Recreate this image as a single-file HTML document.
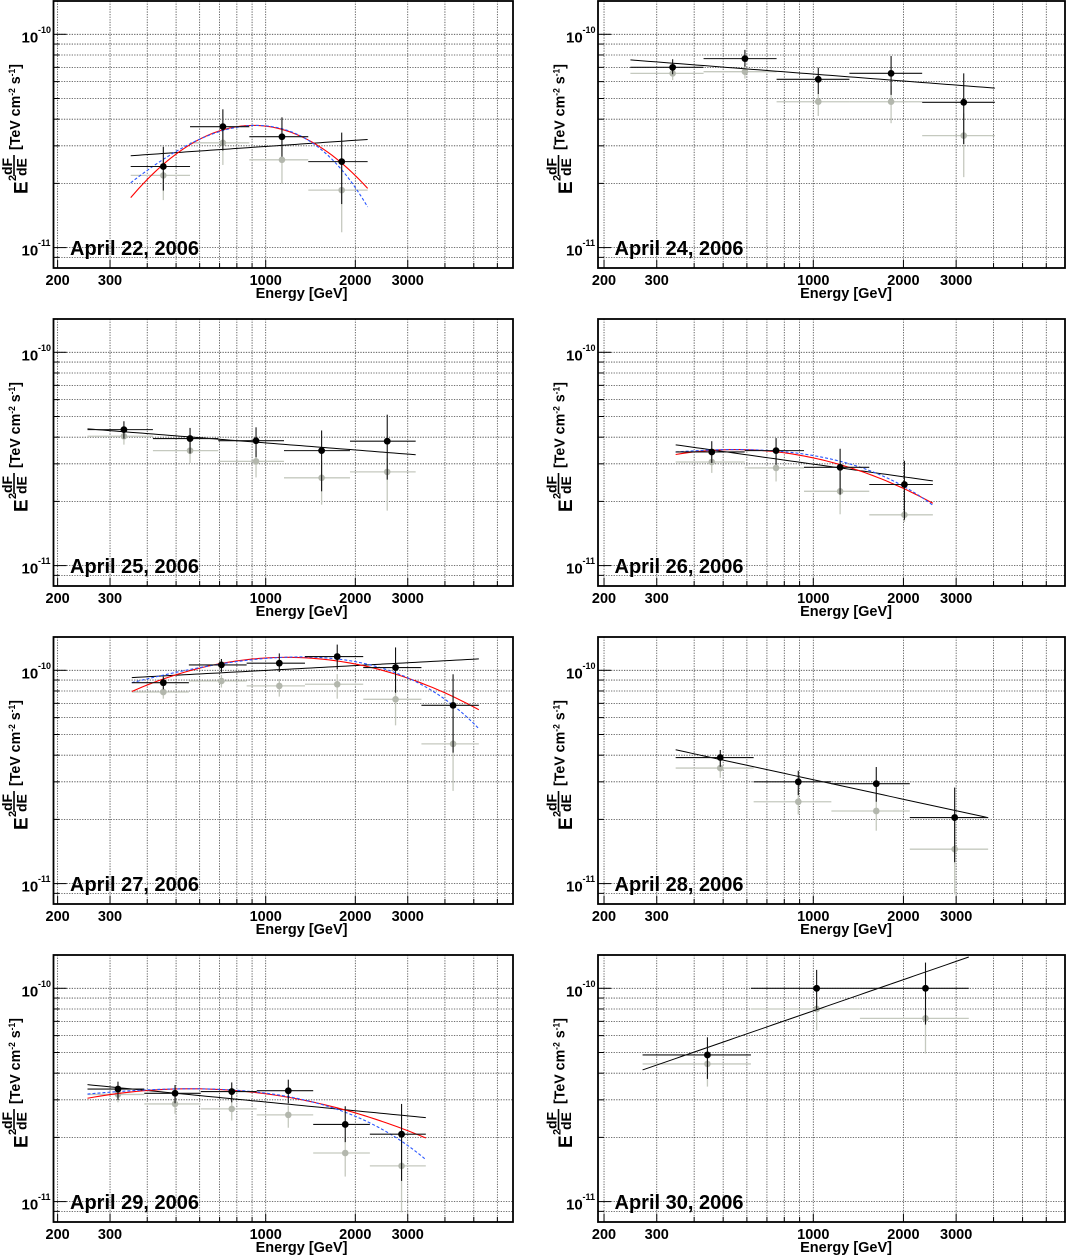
<!DOCTYPE html>
<html>
<head>
<meta charset="utf-8">
<style>
html,body{margin:0;padding:0;background:#fff;}
svg{display:block;font-family:"Liberation Sans",Arial,sans-serif;}
</style>
</head>
<body>
<svg id="chart" width="1068" height="1256" viewBox="0 0 1068 1256" xmlns="http://www.w3.org/2000/svg"></svg>
<script>
// ---- data (E in GeV, flux in units of 1e-11 TeV cm^-2 s^-1) ----
const dates = ["April 22, 2006","April 24, 2006","April 25, 2006","April 26, 2006","April 27, 2006","April 28, 2006","April 29, 2006","April 30, 2006"];
const binEdges = [
 [352,557,881,1390,2200],
 [245,430,754,1320,2310,4040],
 [252,418,693,1152,1919,3190],
 [347,590,931,1538,2508],
 [355,552,863,1355,2126,3335,5200],
 [347,632,1149,2100,3837],
 [252,391,605,933,1444,2238,3450],
 [269,619,1431,3306]
];
const energies = [
 [453,718,1134,1800],
 [339,591,1039,1819,3180],
 [334,557,928,1541,2560],
 [458,751,1229,2015],
 [453,710,1111,1739,2730,4260],
 [489,891,1623,2966],
 [319,496,769,1191,1850,2860],
 [443,1026,2370]
];
const fluxBlack = [
 [2.40,3.69,3.31,2.53],
 [7.0,7.69,6.15,6.56,4.80],
 [4.34,3.94,3.85,3.46,3.83],
 [3.41,3.46,2.89,2.40],
 [8.75,10.6,10.8,11.6,10.3,6.85],
 [3.90,3.0,2.94,2.04],
 [3.37,3.22,3.28,3.31,2.30,2.07],
 [4.87,10.0,10.0]
];
const fluxBlackLo = [
 [1.85,2.85,2.67,1.60],
 [6.5,7.05,5.25,5.2,3.06],
 [3.94,3.35,3.22,2.23,2.53],
 [3.03,2.97,2.15,1.64],
 [8.15,9.82,9.82,10.1,7.85,4.11],
 [3.53,2.6,2.42,1.26],
 [3.0,2.89,2.92,2.89,1.90,1.25],
 [3.76,8.0,6.76]
];
const fluxBlackHi = [
 [2.97,4.45,4.08,3.46],
 [7.64,8.45,6.98,7.91,6.56],
 [4.75,4.42,4.45,4.30,5.1],
 [3.83,3.96,3.53,3.10],
 [9.34,11.3,12.0,13.2,12.8,9.58],
 [4.23,3.38,3.52,2.82],
 [3.65,3.52,3.62,3.73,2.80,2.87],
 [5.89,12.2,13.2]
];
const fluxGrey = [
 [2.18,3.10,2.58,1.86],
 [6.56,6.68,4.83,4.83,3.35],
 [4.04,3.46,3.08,2.58,2.75],
 [3.06,2.87,2.23,1.73],
 [7.91,8.91,8.45,8.6,7.31,4.52],
 [3.48,2.42,2.19,1.45],
 [3.18,2.87,2.72,2.55,1.69,1.47],
 [4.42,8.0,7.23]
];
const fluxGreyLo = [
 [1.67,2.44,1.99,1.18],
 [6.1,6.2,4.14,3.83,2.14],
 [3.69,3.03,2.59,1.93,1.81],
 [2.72,2.48,1.74,1.6],
 [7.36,8.3,7.53,7.36,5.52,2.72],
 [3.13,2.11,1.77,0.89],
 [2.92,2.58,2.40,2.22,1.31,0.89],
 [3.46,6.34,4.95]
];
const fluxGreyHi = [
 [2.58,3.76,3.2,2.48],
 [7.05,7.2,5.28,5.73,4.26],
 [4.34,3.9,3.46,3.08,3.2],
 [3.44,3.26,2.72,1.85],
 [8.45,9.5,9.1,9.6,8.45,6.11],
 [3.77,2.77,2.46,1.93],
 [3.45,3.2,2.97,2.82,2.0,1.97],
 [4.93,9.07,8.0]
];
// power law: [flux at 1 TeV, slope of E^2 dF/dE in log-log]
const powerLaw = [[2.98,0.096],[6.51,-0.1085],[3.76,-0.110],[2.99,-0.197],[9.99,0.0753],[3.07,-0.305],[2.93,-0.136],[7.84,0.486]];
// log-parabola (red): [E peak GeV, flux peak, curvature]
const logParabola = [[908,3.74,2.0],null,null,[550,3.50,0.58],[1177,11.5,0.59],null,[560,3.38,0.37],null];
// cutoff power law (blue dashed): [E peak GeV, flux peak, E cut TeV]
const cutoffPL = [[933,3.74,0.53],null,null,[550,3.50,1.87],[1306,11.55,2.7],null,[560,3.38,2.45],null];
const xTickLabels = [200,300,1000,2000,3000];
const xGridValues = [200,300,400,500,600,700,800,900,1000,2000,3000,4000,5000,6000,7000];
const yGridValues = [0.9,1,2,3,4,5,6,7,8,9,10];

const NS = "http://www.w3.org/2000/svg";
const svg = document.getElementById("chart");
function mk(parent, tag, attrs){
  const e = document.createElementNS(NS, tag);
  for (const k in attrs) e.setAttribute(k, attrs[k]);
  parent.appendChild(e);
  return e;
}

for (let p = 0; p < 8; p++) {
  const col = p % 2, row = Math.floor(p / 2);
  const rowOff = row * 318;
  const x0 = col ? 598 : 53.5, x1 = col ? 1065 : 513;
  const x1000 = col ? 215.3 : 212.2, dec = col ? 299.4 : 297.7;
  const yTop = rowOff + 1, yBot = rowOff + 268;
  const xS = E => x0 + x1000 + dec * Math.log10(E / 1000);
  const yS = F => rowOff + 34.3 - 213.3 * (Math.log10(F) - 1);

  const g = mk(svg, "g", {});
  
  

  const clip = mk(g, "clipPath", {id: "clip" + p});
  mk(clip, "rect", {x: x0, y: yTop, width: x1 - x0, height: yBot - yTop});

  // grid
  const grid = mk(g, "g", {stroke: "#444", "stroke-width": 0.8, "stroke-dasharray": "1.3,1.3"});
  
  
  xGridValues.forEach(E => {
    const x = xS(E);
    if (x > x0 + 1 && x < x1 - 1) mk(grid, "line", {x1: x, x2: x, y1: yTop, y2: yBot});
  });
  yGridValues.forEach(F => {
    const y = yS(F);
    if (y > yTop + 1 && y < yBot - 1) mk(grid, "line", {x1: x0, x2: x1, y1: y, y2: y});
  });

  // ticks
  const ticks = mk(g, "g", {stroke: "#000", "stroke-width": 1});
  
  
  yGridValues.forEach(F => {
    const y = yS(F);
    if (y > yTop && y < yBot) mk(ticks, "line", {x1: x0, x2: x0 + ((F === 1 || F === 10) ? 13 : 6), y1: y, y2: y});
  });
  xGridValues.forEach(E => {
    const x = xS(E);
    if (x > x0 && x < x1) mk(ticks, "line", {x1: x, x2: x, y1: yBot, y2: yBot - (xTickLabels.includes(E) ? 8 : 5)});
  });

  // frame
  const frame = mk(g, "rect", {x: x0, y: yTop, width: x1 - x0, height: yBot - yTop, fill: "none", stroke: "#000", "stroke-width": 1.8});
  
  

  // x tick labels
  xTickLabels.forEach(E => {
    const t = mk(g, "text", {x: xS(E), y: rowOff + 285, "text-anchor": "middle", "font-size": 14.5, "font-weight": "bold"});
    t.textContent = E;
    
    
  });
  const xt = mk(g, "text", {x: x0 + 294, y: rowOff + 298, "text-anchor": "end", "font-size": 14.5, "font-weight": "bold"});
  xt.textContent = "Energy [GeV]";
  
  

  // y tick labels
  [[10, "-10"], [1, "-11"]].forEach(([F, ex]) => {
    const y = yS(F);
    const t = mk(g, "text", {x: x0 - 32, y: y + 8, "font-size": 15, "font-weight": "bold"});
    t.textContent = "10";
    
    
    const s = mk(g, "text", {x: x0 - 15.5, y: y - 1.5, "font-size": 9, "font-weight": "bold"});
    s.textContent = ex;
    
    
  });

  // y-axis title (rotated)
  const yt = mk(g, "g", {transform: "translate(" + (x0 - 53.5) + "," + rowOff + ") rotate(-90)", "font-weight": "bold"});
  
  
  mk(yt, "text", {x: -194, y: 27.5, "font-size": 19}).textContent = "E";
  mk(yt, "text", {x: -181, y: 16, "font-size": 11}).textContent = "2";
  mk(yt, "text", {x: -175, y: 12, "font-size": 14}).textContent = "dF";
  mk(yt, "line", {x1: -176, x2: -155, y1: 14, y2: 14, stroke: "#000", "stroke-width": 1.6});
  mk(yt, "text", {x: -176, y: 26.5, "font-size": 14}).textContent = "dE";
  const br = mk(yt, "text", {x: -150, y: 20, "font-size": 15, textLength: 86, lengthAdjust: "spacingAndGlyphs"});
  br.innerHTML = '[TeV cm<tspan dy="-5" font-size="9">-2</tspan><tspan dy="5"> s</tspan><tspan dy="-5" font-size="9">-1</tspan><tspan dy="5">]</tspan>';

  // date label
  const dl = mk(g, "text", {x: x0 + 16.5, y: rowOff + 255, "font-size": 20, "font-weight": "bold"});
  dl.textContent = dates[p];
  
  

  const plot = mk(g, "g", {"clip-path": "url(#clip" + p + ")"});
  const bins = binEdges[p];
  const Emin = bins[0], Emax = bins[bins.length - 1];

  // grey points (behind)
  const gg = mk(plot, "g", {stroke: "#c5c9bf", "stroke-width": 1.3, fill: "#b3b7ad"});
  
  
  energies[p].forEach((E, i) => {
    const x = xS(E), y = yS(fluxGrey[p][i]);
    mk(gg, "line", {x1: xS(bins[i]), x2: xS(bins[i + 1]), y1: y, y2: y});
    mk(gg, "line", {x1: x, x2: x, y1: yS(fluxGreyLo[p][i]), y2: yS(fluxGreyHi[p][i])});
    const c = mk(gg, "circle", {cx: x, cy: y, r: 3.3, stroke: "none"});
    
    
  });

  // fits
  function curvePath(fn) {
    let d = "";
    const n = 60;
    for (let k = 0; k <= n; k++) {
      const L = Math.log10(Emin) + (Math.log10(Emax) - Math.log10(Emin)) * k / n;
      const E = Math.pow(10, L);
      d += (k ? "L" : "M") + xS(E).toFixed(2) + "," + yS(fn(E)).toFixed(2);
    }
    return d;
  }
  const pl = powerLaw[p];
  const plp = mk(plot, "path", {d: curvePath(E => pl[0] * Math.pow(E / 1000, pl[1])), fill: "none", stroke: "#000", "stroke-width": 1});
  
  
  if (logParabola[p]) {
    const [Ep, Fp, c] = logParabola[p];
    const rp = mk(plot, "path", {d: curvePath(E => Fp * Math.pow(10, -c * Math.pow(Math.log10(E / Ep), 2))), fill: "none", stroke: "#ff0000", "stroke-width": 1.1});
    
    
  }
  if (cutoffPL[p]) {
    const [Ep, Fp, Ec] = cutoffPL[p];
    const f = E => {
      const et = E / 1000, pt = Ep / 1000;
      return Fp * Math.pow(10, (pt * Math.log10(et / pt) - Math.LOG10E * (et - pt)) / Ec);
    };
    const bp = mk(plot, "path", {d: curvePath(f), fill: "none", stroke: "#2855ff", "stroke-width": 1.1, "stroke-dasharray": "3,2"});
    
    
  }

  // black points
  const bg = mk(plot, "g", {stroke: "#111", "stroke-width": 1.1, fill: "#000"});
  
  
  energies[p].forEach((E, i) => {
    const x = xS(E), y = yS(fluxBlack[p][i]);
    mk(bg, "line", {x1: xS(bins[i]), x2: xS(bins[i + 1]), y1: y, y2: y});
    mk(bg, "line", {x1: x, x2: x, y1: yS(fluxBlackLo[p][i]), y2: yS(fluxBlackHi[p][i])});
    const c = mk(bg, "circle", {cx: x, cy: y, r: 3.4, stroke: "none"});
    
    
  });
}
</script>
</body>
</html>
